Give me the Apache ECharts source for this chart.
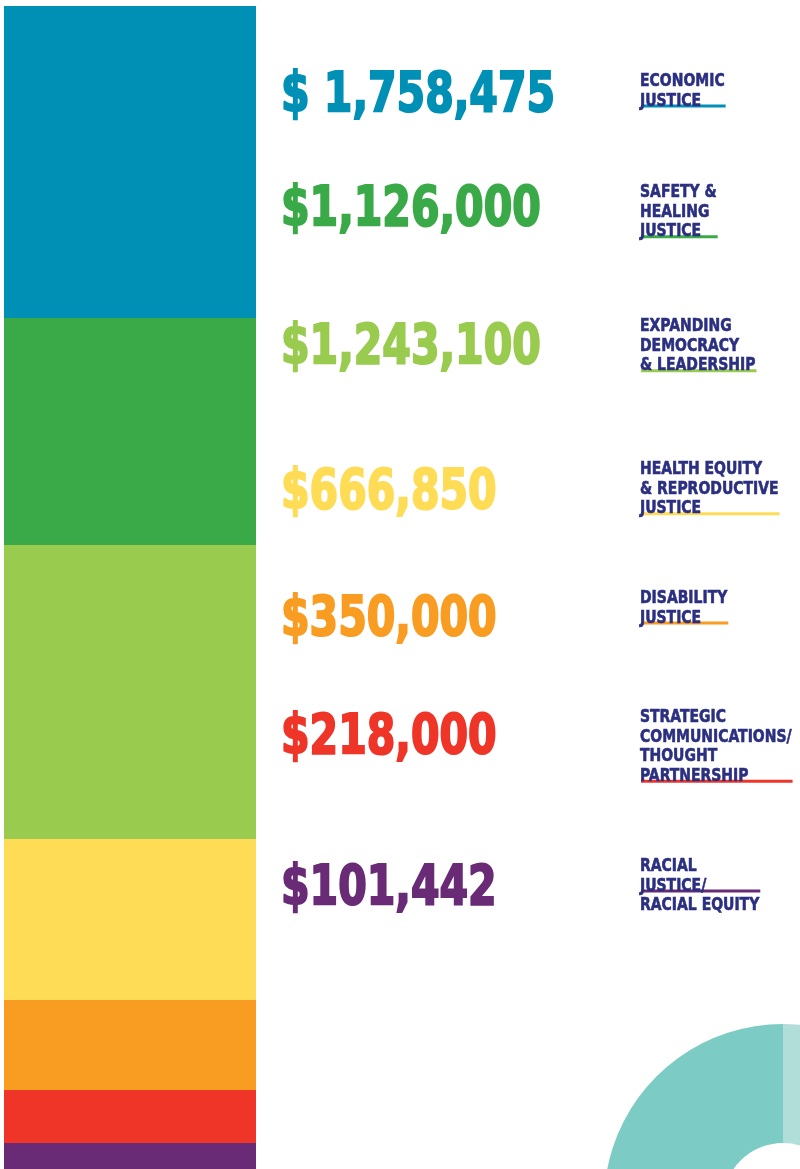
<!DOCTYPE html>
<html>
<head>
<meta charset="utf-8">
<script src="https://cdn.jsdelivr.net/npm/echarts@6/dist/echarts.min.js"></script>
<style>
  html, body { margin: 0; padding: 0; background: #fff; }
  #chart { width: 800px; height: 1169px; }
</style>
</head>
<body>
<div id="chart"></div>
<script>
// funding areas, top to bottom
var areas = [
  'ECONOMIC\nJUSTICE',
  'SAFETY &\nHEALING\nJUSTICE',
  'EXPANDING\nDEMOCRACY\n& LEADERSHIP',
  'HEALTH EQUITY\n& REPRODUCTIVE\nJUSTICE',
  'DISABILITY\nJUSTICE',
  'STRATEGIC\nCOMMUNICATIONS/\nTHOUGHT\nPARTNERSHIP',
  'RACIAL\nJUSTICE/\nRACIAL EQUITY'
];
var amounts = ['$ 1,758,475', '$1,126,000', '$1,243,100', '$666,850', '$350,000', '$218,000', '$101,442'];
// height of each strip in the colour bar (as drawn, not to scale of the amounts)
var stripHeights = [312, 227, 294, 161, 90, 53, 26];
// ring in the corner
var ringShares = [30, 70];

var palette = ['#0090b6', '#3aaa48', '#99cb4f', '#ffdc55', '#f99c22', '#ee3528', '#692a76'];
var ringColors = ['#b2deda', '#7ccbc4'];
var navy = '#2b2f80';

// layout (cap-height centres in px)
var amountY = [93, 207, 345, 490, 617, 735, 886];
var labelTop = [80, 191, 325, 468, 597, 716, 865];
var underlineRow = [1, 2, 2, 2, 1, 3, 1];
var rowGap = 19.6;

var font = '"DejaVu Sans Condensed", "DejaVu Sans", sans-serif';
var bigSize = 55, smallSize = 18.5, squeeze = 0.83, squeezeSmall = 0.84;

var ctx = document.createElement('canvas').getContext('2d');
function textWidth(str, size) {
  ctx.font = 'bold ' + size + 'px ' + font;
  return ctx.measureText(str).width;
}

var total = stripHeights.reduce(function (a, b) { return a + b; }, 0);
var graphics = [];

areas.forEach(function (name, i) {
  var lines = name.split('\n');
  var widest = 0;
  lines.forEach(function (l) { widest = Math.max(widest, textWidth(l, smallSize)); });
  var lineY = labelTop[i] + underlineRow[i] * rowGap;
  graphics.push({
    type: 'rect', silent: true,
    shape: { x: 641, y: lineY + 5, width: widest * squeezeSmall, height: 3 },
    style: { fill: palette[i] }
  });
  lines.forEach(function (l, k) {
    graphics.push({
      type: 'text', silent: true,
      x: 640, y: labelTop[i] + k * rowGap + 0.07 * smallSize,
      scaleX: squeezeSmall,
      style: {
        text: l, fill: navy, stroke: navy, lineWidth: 0.6,
        font: 'bold ' + smallSize + 'px ' + font,
        textVerticalAlign: 'middle', verticalAlign: 'middle'
      }
    });
  });
  graphics.push({
    type: 'text', silent: true,
    x: 281, y: amountY[i] + 0.07 * bigSize,
    scaleX: squeeze,
    style: {
      text: amounts[i], fill: palette[i], stroke: palette[i], lineWidth: 2,
      font: 'bold ' + bigSize + 'px ' + font,
      textVerticalAlign: 'middle', verticalAlign: 'middle'
    }
  });
});

var myChart = echarts.init(document.getElementById('chart'));
myChart.setOption({
  animation: false,
  grid: { left: 4, top: 6, width: 252, bottom: 0 },
  xAxis: { type: 'category', data: ['all'], show: false },
  yAxis: { type: 'value', inverse: true, min: 0, max: total, show: false },
  series: stripHeights.map(function (h, i) {
    return {
      type: 'bar', stack: 'strip', barWidth: '100%', silent: true,
      data: [h], itemStyle: { color: palette[i] }
    };
  }).concat([{
    type: 'pie', silent: true,
    center: [783, 1203], radius: [60, 179],
    startAngle: 90, label: { show: false }, labelLine: { show: false },
    data: ringShares.map(function (v, i) {
      return { value: v, itemStyle: { color: ringColors[i] } };
    })
  }]),
  graphic: graphics
});
</script>
</body>
</html>
